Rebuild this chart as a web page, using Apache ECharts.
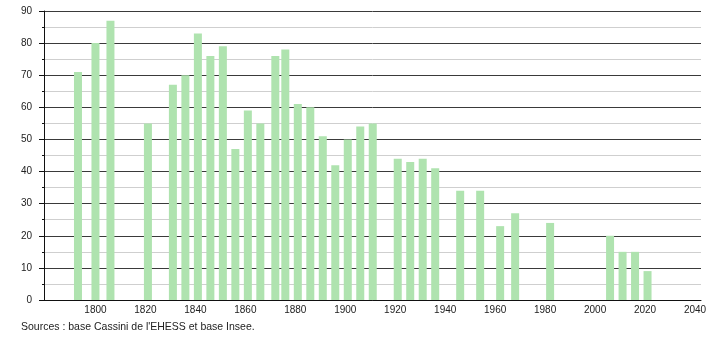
<!DOCTYPE html>
<html>
<head>
<meta charset="utf-8">
<script src="https://cdn.jsdelivr.net/npm/echarts@6/dist/echarts.min.js"></script>
<style>html,body{margin:0;padding:0;background:#fff;}#c{width:710px;height:340px;}</style>
</head>
<body>
<div id="c"></div>
<script>
var years = [1793,1800,1806,1821,1831,1836,1841,1846,1851,1856,1861,1866,1872,1876,1881,1886,1891,1896,1901,1906,1911,1921,1926,1931,1936,1946,1954,1962,1968,1982,2006,2011,2016,2021];
var population = [71,80,87,55,67,70,83,76,79,47,59,55,76,78,61,60,51,42,50,54,55,44,43,44,41,34,34,23,27,24,20,15,15,9];
var xTickLabels = [1800,1820,1840,1860,1880,1900,1920,1940,1960,1980,2000,2020,2040];
var yTickLabels = [0,10,20,30,40,50,60,70,80,90];
var sourceText = "Sources : base Cassini de l'EHESS et base Insee.";

var chart = echarts.init(document.getElementById('c'), null, {renderer: 'canvas'});
var seriesData = years.map(function (y, i) { return [y, population[i]]; });
chart.setOption({
  animation: false,
  backgroundColor: '#fff',
  textStyle: {fontFamily: 'Liberation Sans, Arial, sans-serif'},
  grid: {left: 44, right: 9, top: 11, bottom: 40, containLabel: false},
  xAxis: {
    type: 'value', min: 1779.4, max: 2042.4,
    axisLine: {show: true, lineStyle: {color: '#111', width: 1}},
    axisTick: {show: false},
    splitLine: {show: false},
    axisLabel: {customValues: xTickLabels, color: '#222', fontSize: 10, margin: 5,
      formatter: function (v) { return String(v); },
      fontFamily: 'Liberation Sans, Arial, sans-serif'}
  },
  yAxis: {
    type: 'value', min: 0, max: 90, interval: 10,
    axisLine: {show: true, lineStyle: {color: '#111', width: 1}},
    axisTick: {show: true, length: 5, lineStyle: {color: '#111'}},
    minorTick: {show: true, splitNumber: 2, length: 2, lineStyle: {color: '#111'}},
    splitLine: {show: true, lineStyle: {color: '#3a3a3a', width: 1}},
    minorSplitLine: {show: true, lineStyle: {color: '#cfcfcf', width: 1}},
    axisLabel: {customValues: yTickLabels, color: '#222', fontSize: 10, margin: 12,
      formatter: function (v) { return String(v); },
      fontFamily: 'Liberation Sans, Arial, sans-serif'}
  },
  series: [{
    type: 'bar',
    data: seriesData,
    barWidth: 8,
    itemStyle: {color: '#afe3af'},
    z: 3
  }],
  graphic: [{
    type: 'text', left: 21, top: 322,
    style: {text: sourceText, fill: '#222', fontSize: 10.5, fontFamily: 'Liberation Sans, Arial, sans-serif'}
  }]
});
</script>
</body>
</html>
